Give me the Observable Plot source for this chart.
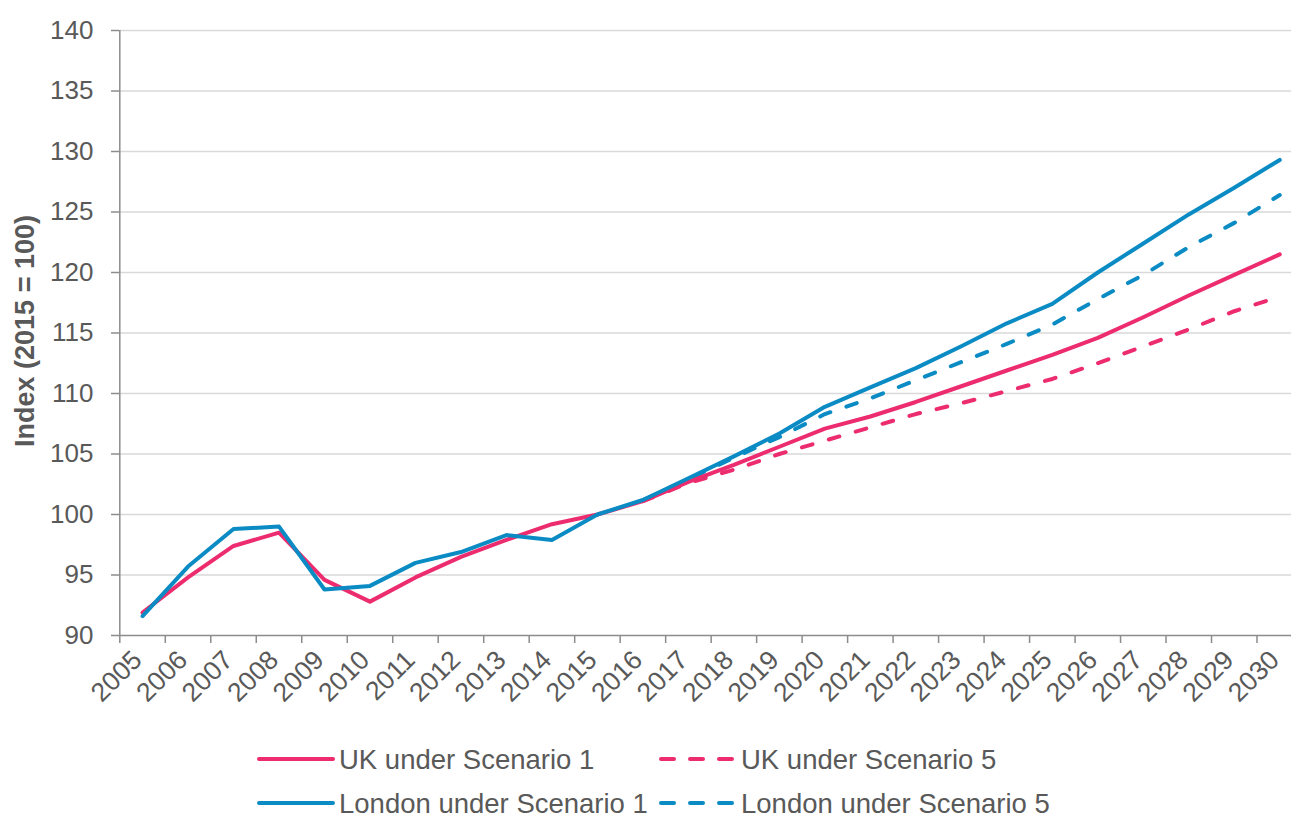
<!DOCTYPE html>
<html>
<head>
<meta charset="utf-8">
<script src="https://cdn.jsdelivr.net/npm/d3@7"></script>
<script src="https://cdn.jsdelivr.net/npm/@observablehq/plot@0.6"></script>
<style>
  html, body { margin: 0; padding: 0; background: #fff; }
  #chart { position: relative; width: 1291px; height: 818px; font-family: "Liberation Sans", Arial, sans-serif; overflow: hidden; }
  #legend { position: absolute; left: 0; top: 725px; overflow: visible; }
</style>
</head>
<body>
<div id="chart"></div>
<script>
// ---- data ----
const years = [2005,2006,2007,2008,2009,2010,2011,2012,2013,2014,2015,2016,2017,2018,2019,2020,2021,2022,2023,2024,2025,2026,2027,2028,2029,2030];
const ukScenario1 = [91.9,94.8,97.4,98.5,94.6,92.8,94.8,96.5,97.9,99.2,100,101.1,102.7,104.1,105.6,107.1,108.1,109.3,110.6,111.9,113.2,114.6,116.3,118.1,119.8,121.5];
const londonScenario1 = [91.6,95.7,98.8,99.0,93.8,94.1,96.0,96.9,98.3,97.9,100,101.2,103.0,104.8,106.7,108.9,110.5,112.1,113.9,115.8,117.4,120.0,122.4,124.8,127.0,129.3];
const scenario5Years = [2016,2017,2018,2019,2020,2021,2022,2023,2024,2025,2026,2027,2028,2029,2030];
const ukScenario5 = [101.1,102.6,103.7,105.0,106.1,107.2,108.3,109.2,110.2,111.2,112.5,113.9,115.3,116.8,118.0];
const londonScenario5 = [101.2,102.9,104.7,106.4,108.3,109.6,111.1,112.6,114.1,115.7,117.8,119.8,122.1,124.1,126.4];
const yTicks = [90,95,100,105,110,115,120,125,130,135,140];
const seriesNames = ["UK under Scenario 1","UK under Scenario 5","London under Scenario 1","London under Scenario 5"];
const yTitle = "Index (2015 = 100)";

const PINK = "#EC2C6E", BLUE = "#0B8BC4", TEXT = "#595959", AXIS = "#8c8c8c", GRID = "#d9d9d9";
const DASH = "11,17";

const toRows = (xs, vs) => xs.map((x, i) => ({year: x, value: vs[i]}));
const uk1 = toRows(years, ukScenario1);
const ld1 = toRows(years, londonScenario1);
const uk5 = toRows(scenario5Years, ukScenario5);
const ld5 = toRows(scenario5Years, londonScenario5);
const boundaries = [...years.map(y => y - 0.5), years[years.length - 1] + 0.5];

const lineOpts = (color, dashed) => ({
  x: "year", y: "value", stroke: color, strokeWidth: 4,
  strokeLinecap: "round", strokeLinejoin: "round",
  ...(dashed ? {strokeDasharray: DASH} : {})
});

const plot = Plot.plot({
  width: 1291,
  height: 725,
  marginTop: 30,
  marginBottom: 90,
  marginLeft: 119,
  marginRight: 0,
  style: {fontFamily: '"Liberation Sans", Arial, sans-serif', fontSize: "26px", color: TEXT, background: "#fff"},
  x: {type: "linear", domain: [2004.5, 2030.5], range: [119.3, 1302]},
  y: {domain: [90, 140]},
  marks: [
    Plot.ruleY(yTicks.filter(d => d > 90), {stroke: GRID, strokeWidth: 1.5}),
    Plot.axisY({ticks: yTicks, tickSize: 8, tickPadding: 18, stroke: AXIS, strokeWidth: 1.5, label: null, fontSize: 26, fill: TEXT}),
    Plot.axisX({ticks: boundaries, tickSize: 8, tickFormat: () => "", stroke: AXIS, strokeWidth: 1.5, label: null}),
    Plot.ruleX([2004.5], {stroke: AXIS, strokeWidth: 1.5}),
    Plot.ruleY([90], {stroke: AXIS, strokeWidth: 1.5}),
    Plot.text(years, {x: d => d, frameAnchor: "bottom", text: d => String(d), rotate: -45, textAnchor: "end", dx: 1, dy: 26, fontSize: 26.5, fill: TEXT}),
    Plot.text([yTitle], {frameAnchor: "left", dx: -94, dy: -2, rotate: -90, textAnchor: "middle", fontWeight: "bold", fontSize: 27, fill: TEXT}),
    Plot.line(uk5, lineOpts(PINK, true)),
    Plot.line(ld5, lineOpts(BLUE, true)),
    Plot.line(uk1, lineOpts(PINK, false)),
    Plot.line(ld1, lineOpts(BLUE, false))
  ]
});
document.getElementById("chart").appendChild(plot);

// ---- legend (below the plot) ----
const legendItems = [
  {name: seriesNames[0], color: PINK, dashed: false, x: 259, y: 34},
  {name: seriesNames[1], color: PINK, dashed: true,  x: 661, y: 34},
  {name: seriesNames[2], color: BLUE, dashed: false, x: 259, y: 78},
  {name: seriesNames[3], color: BLUE, dashed: true,  x: 661, y: 78}
];
const lg = d3.select("#chart").append("svg").attr("id", "legend")
  .attr("width", 1291).attr("height", 93)
  .style("font-family", '"Liberation Sans", Arial, sans-serif');
const g = lg.selectAll("g").data(legendItems).join("g");
g.append("line")
  .attr("x1", d => d.x).attr("x2", d => d.x + 74)
  .attr("y1", d => d.y).attr("y2", d => d.y)
  .attr("stroke", d => d.color).attr("stroke-width", 4)
  .attr("stroke-linecap", "round")
  .attr("stroke-dasharray", d => d.dashed ? "13,16" : null);
g.append("text")
  .attr("x", d => d.x + 80).attr("y", d => d.y)
  .attr("dy", "0.35em")
  .attr("fill", TEXT).attr("font-size", "27.5px")
  .text(d => d.name);
</script>
</body>
</html>
